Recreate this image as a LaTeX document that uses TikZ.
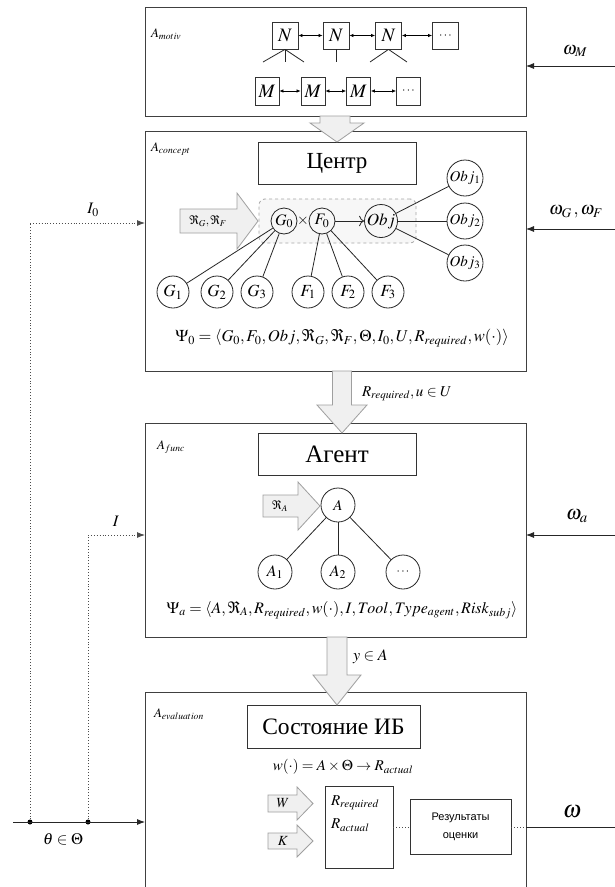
\documentclass[tikz,border=0pt]{standalone}
\usepackage{mathptmx}
\usepackage[no-math]{fontspec}
\setmainfont{Liberation Serif}
\newfontfamily\arialf{Liberation Sans}
\usetikzlibrary{arrows.meta}
\newcommand{\fs}[1]{\fontsize{#1}{#1}\selectfont}
\tikzset{
  frame/.style={draw=black!75, line width=1pt, inner sep=0pt, outer sep=0pt},
  sq/.style={draw=black!80, line width=0.8pt, inner sep=0pt, minimum width=26pt, minimum height=27pt, font=\fs{19}},
  msq/.style={draw=black!80, line width=0.8pt, inner sep=0pt, minimum width=24pt, minimum height=28pt, font=\fs{19}},
  circ/.style={circle, draw=black!85, line width=0.8pt, inner sep=0pt, minimum size=#1, font=\fs{17}},
  circ/.default=32pt,
  titlebox/.style={draw=black!80, line width=1pt, inner sep=0pt, minimum width=158pt, minimum height=42pt},
  bigarr/.style={fill=gray!12, draw=gray!75, line width=0.8pt},
  dbl/.style={{Latex[length=4pt,width=3.5pt]}-{Latex[length=4pt,width=3.5pt]}, line width=0.7pt},
  lbl/.style={inner sep=0pt, outer sep=0pt},
  ln/.style={line width=0.8pt, draw=black!85},
  inarr/.style={-{Latex[length=8pt,width=6pt]}, line width=0.8pt},
  dotl/.style={dotted, line width=0.9pt, draw=black!70},
  dotn/.style={circle, fill=black, inner sep=0pt, minimum size=5pt},
}
\begin{document}
\begin{tikzpicture}[x=1pt,y=-1pt]
\useasboundingbox (0,0) rectangle (615,887);
\fill[white] (0,0) rectangle (615,887);

% ---------- A_motiv ----------
\node[frame, minimum width=381pt, minimum height=109pt] (motiv) at (335.5,61.5) {};
\node[lbl, anchor=west] (lmotiv) at (151,34) {\fs{13}$A_{motiv}$};
\node[sq] (n1) at (285,35.5) {$N$};
\node[sq] (n2) at (336,35.5) {$N$};
\node[sq] (n3) at (388.5,35.5) {$N$};
\node[sq, font=\fs{12}] (n4) at (445.5,35.5) {$\cdots$};
\draw[dbl] (n1) -- (n2);
\draw[dbl] (n2) -- (n3);
\draw[dbl] (n3) -- (n4);
\coordinate (l1) at (263,62);
\coordinate (l2) at (285,62);
\coordinate (l3) at (304,62);
\coordinate (l4) at (336,62);
\coordinate (l5) at (370,62);
\coordinate (l6) at (407,62);
\draw[ln] (n1.south) -- (l1);
\draw[ln] (n1.south) -- (l2);
\draw[ln] (n1.south) -- (l3);
\draw[ln] (n2.south) -- (l4);
\draw[ln] (n3.south) -- (l5);
\draw[ln] (n3.south) -- (l6);
\node[msq] (m1) at (267,91) {$M$};
\node[msq] (m2) at (313,91) {$M$};
\node[msq] (m3) at (358.5,91) {$M$};
\node[msq, font=\fs{12}] (m4) at (408.5,91) {$\cdots$};
\draw[dbl] (m1) -- (m2);
\draw[dbl] (m2) -- (m3);
\draw[dbl] (m3) -- (m4);

% ---------- A_concept ----------
\node[frame, minimum width=381pt, minimum height=240pt] (concept) at (335.5,251) {};
\node[lbl, anchor=west] (lconcept) at (151,149) {\fs{13}$A_{concept}$};
\node[titlebox] (centr) at (337,163) {\fs{23}Центр};
\node[draw=gray!70, dashed, fill=gray!6, rounded corners=6pt, minimum width=157pt, minimum height=44pt, line width=0.8pt] (grp) at (337.5,221) {};
\draw[bigarr] (180,209) -- (237,209) -- (237,193) -- (258,221) -- (237,249) -- (237,233) -- (180,233) -- cycle;
\node[lbl] (rgf) at (208,221) {\fs{12}$\Re_G,\Re_F$};
\node[circ=26pt, font=\fs{16}] (g0) at (284,221) {$G_0$};
\node[lbl] (times) at (303,221) {\fs{15}$\times$};
\node[circ=26pt, font=\fs{16}] (f0) at (322,221) {$F_0$};
\node[circ=33pt] (obj) at (381,221) {$Obj$};
\draw[ln, -{To[length=5pt]}] (f0) -- (obj);
\node[circ=36pt, font=\fs{15}] (obj1) at (465,178) {$Obj_1$};
\node[circ=36pt, font=\fs{15}] (obj2) at (465,221) {$Obj_2$};
\node[circ=36pt, font=\fs{15}] (obj3) at (465,263) {$Obj_3$};
\draw[ln] (obj) -- (obj1);
\draw[ln] (obj) -- (obj2);
\draw[ln] (obj) -- (obj3);
\node[circ] (g1) at (173,292) {$G_1$};
\node[circ] (g2) at (217,292) {$G_2$};
\node[circ] (g3) at (257,292) {$G_3$};
\node[circ] (f1) at (308,292) {$F_1$};
\node[circ] (f2) at (348,292) {$F_2$};
\node[circ] (f3) at (388,292) {$F_3$};
\draw[ln] (g0) -- (g1);
\draw[ln] (g0) -- (g2);
\draw[ln] (g0) -- (g3);
\draw[ln] (f0) -- (f1);
\draw[ln] (f0) -- (f2);
\draw[ln] (f0) -- (f3);
\node[lbl] (psi0) at (342,338) {\fs{16.5}$\Psi_0=\langle G_0,F_0,Obj,\Re_G,\Re_F,\Theta,I_0,U,R_{required},w(\cdot)\rangle$};

% arrow motiv -> concept
\draw[bigarr] (320,116) -- (350,116) -- (350,123) -- (364,123) -- (337,142) -- (310,123) -- (320,123) -- cycle;

% ---------- A_func ----------
\node[frame, minimum width=381pt, minimum height=214pt] (func) at (335.5,530) {};
\node[lbl, anchor=west] (lfunc) at (157,447) {\fs{13}$A_{func}$};
\node[titlebox] (agent) at (337,454) {\fs{25}Агент};
\draw[bigarr] (263,495) -- (298,495) -- (298,482) -- (320,506) -- (298,530) -- (298,517) -- (263,517) -- cycle;
\node[lbl] (ra) at (280,506) {\fs{12}$\Re_A$};
\node[circ=34pt, font=\fs{15}] (a0) at (338,505) {$A$};
\node[circ=34pt, font=\fs{16}] (a1) at (275,572) {$A_1$};
\node[circ=34pt, font=\fs{16}] (a2) at (338,572) {$A_2$};
\node[circ=34pt, font=\fs{12}] (a3) at (403,572) {$\cdots$};
\draw[ln] (a0) -- (a1);
\draw[ln] (a0) -- (a2);
\draw[ln] (a0) -- (a3);
\node[lbl] (psia) at (342,610) {\fs{16}$\Psi_a=\langle A,\Re_A,R_{required},w(\cdot),I,Tool,Type_{agent},Risk_{subj}\rangle$};

% arrow concept -> func
\draw[bigarr] (332.5,371) -- (351.5,371) -- (351.5,405) -- (367,405) -- (342,433) -- (317,405) -- (332.5,405) -- cycle;
\node[lbl, anchor=west] (lreq) at (362,394) {\fs{15}$R_{required},u\in U$};

% ---------- A_evaluation ----------
\node[frame, minimum width=381pt, minimum height=199pt] (evalb) at (335.5,791.5) {};
\node[lbl, anchor=west] (leval) at (154,714) {\fs{13}$A_{evaluation}$};
\node[titlebox, minimum width=173pt, minimum height=43pt] (state) at (333.5,726.5) {\fs{23.5}Состояние ИБ};
\node[lbl] (wfun) at (343,767) {\fs{15}$w(\cdot)=A\times\Theta\rightarrow R_{actual}$};
\draw[bigarr] (268,795) -- (297,795) -- (297,787) -- (313,803.5) -- (297,820) -- (297,812) -- (268,812) -- cycle;
\node[lbl] (lw) at (283,803.5) {\fs{14}$W$};
\draw[bigarr] (268,833) -- (297,833) -- (297,825) -- (313,841) -- (297,857) -- (297,849) -- (268,849) -- cycle;
\node[lbl] (lk) at (283,841) {\fs{14}$K$};
\node[draw=black!80, line width=0.9pt, minimum width=68pt, minimum height=82pt, inner sep=0pt] (rr) at (359,827) {};
\node[lbl, anchor=west] (rreq) at (331,803) {\fs{15}$R_{required}$};
\node[lbl, anchor=west] (ract) at (331,825) {\fs{15}$R_{actual}$};
\node[draw=black!80, line width=0.9pt, minimum width=101pt, minimum height=55pt, inner sep=0pt, align=center, font=\arialf\fontsize{11}{18}\selectfont] (res) at (460.5,827) {Результаты\\оценки};
\draw[dotl] (rr) -- (res);
\coordinate (oe) at (evalb.east |- res);
\coordinate (oR) at (615,827);
\draw[dotl] (res) -- (oe);
\draw[ln] (oe) -- (oR);
\node[lbl] (lom) at (572,812) {\fs{24}$\omega$};

% arrow func -> eval
\draw[bigarr] (327,637) -- (347,637) -- (347,675) -- (361,675) -- (337,705) -- (313,675) -- (327,675) -- cycle;
\node[lbl, anchor=west] (lya) at (353,657) {\fs{16}$y\in A$};

% ---------- left inputs ----------
\coordinate (t0) at (13,822);
\node[dotn] (d1) at (30,822) {};
\node[dotn] (d2) at (88,822) {};
\draw[ln, inarr] (t0) -- (evalb.west |- t0);
\node[lbl] (ltheta) at (63,839) {\fs{16}$\theta\in\Theta$};
\coordinate (c0) at (30,223);
\draw[dotl] (d1) -- (c0);
\draw[dotl, -{Latex[length=8pt,width=6pt]}] (c0) -- (concept.west |- c0);
\node[lbl] (li0) at (93,210) {\fs{16}$I_0$};
\coordinate (c1) at (88,535);
\draw[dotl] (d2) -- (c1);
\draw[dotl, -{Latex[length=8pt,width=6pt]}] (c1) -- (func.west |- c1);
\node[lbl] (li) at (116,521) {\fs{16}$I$};

% ---------- right inputs ----------
\coordinate (rM) at (615,66);
\draw[ln, inarr] (rM) -- (motiv.east |- rM);
\node[lbl] (lwm) at (575,51) {\fs{18}$\omega_M$};
\coordinate (rG) at (615,229);
\draw[ln, inarr] (rG) -- (concept.east |- rG);
\node[lbl] (lwg) at (576,212) {\fs{18}$\omega_G\,,\omega_F$};
\coordinate (rA) at (615,535);
\draw[ln, inarr] (rA) -- (func.east |- rA);
\node[lbl] (lwa) at (577,516) {\fs{20}$\omega_a$};
\end{tikzpicture}
\end{document}
